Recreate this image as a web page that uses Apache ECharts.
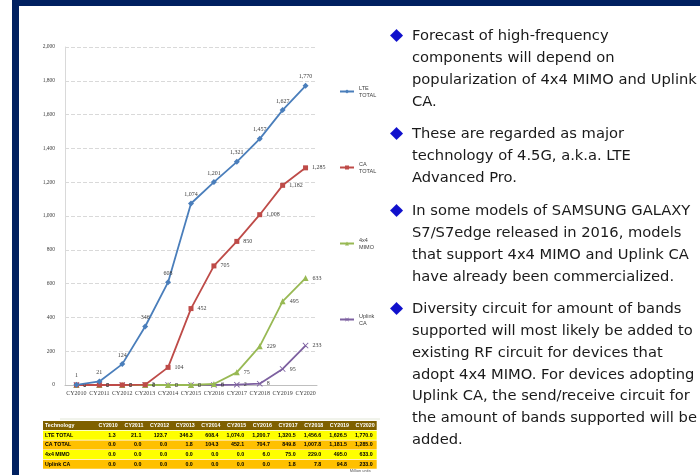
<!DOCTYPE html>
<html>
<head>
<meta charset="utf-8">
<script src="https://cdn.jsdelivr.net/npm/echarts@6/dist/echarts.min.js"></script>
<style>
html,body{margin:0;padding:0;background:#fff;}
#c{width:700px;height:475px;}
</style>
</head>
<body>
<div id="c"></div>
<script>
// ---- data ----
const categories = ['CY2010','CY2011','CY2012','CY2013','CY2014','CY2015','CY2016','CY2017','CY2018','CY2019','CY2020'];
const seriesNames = ['LTE TOTAL','CA TOTAL','4x4 MIMO','Uplink CA'];
const lteTotal = [1.3, 21.1, 123.7, 346.3, 608.4, 1074.0, 1200.7, 1320.5, 1456.6, 1626.5, 1770.0];
const caTotal  = [0.0, 0.0, 0.0, 1.8, 104.3, 452.1, 704.7, 849.8, 1007.8, 1181.5, 1285.0];
const mimo4x4  = [0.0, 0.0, 0.0, 0.0, 0.0, 0.0, 6.0, 75.0, 229.0, 495.0, 633.0];
const uplinkCA = [0.0, 0.0, 0.0, 0.0, 0.0, 0.0, 0.0, 1.8, 7.8, 94.8, 233.0];
const yTicks = [0, 200, 400, 600, 800, 1000, 1200, 1400, 1600, 1800, 2000];
const tableHeader = 'Technology';
const tableRowNames = ['LTE TOTAL','CA TOTAL','4x4 MIMO','Uplink CA'];
const tableUnit = 'Million units';
const bullets = [
  'Forecast of high-frequency\ncomponents will depend on\npopularization of 4x4 MIMO and Uplink\nCA.',
  'These are regarded as major\ntechnology of 4.5G, a.k.a. LTE\nAdvanced Pro.',
  'In some models of SAMSUNG GALAXY\nS7/S7edge released in 2016, models\nthat support 4x4 MIMO and Uplink CA\nhave already been commercialized.',
  'Diversity circuit for amount of bands\nsupported will most likely be added to\nexisting RF circuit for devices that\nadopt 4x4 MIMO. For devices adopting\nUplink CA, the send/receive circuit for\nthe amount of bands supported will be\nadded.'
];

// ---- styles ----
const colors = ['#4A7EBB','#BE4B48','#98B954','#7D60A0'];
const symbols = ['diamond','rect','triangle','path://M0,1L1,0L5,4L9,0L10,1L6,5L10,9L9,10L5,6L1,10L0,9L4,5Z'];
const values = [lteTotal, caTotal, mimo4x4, uplinkCA];
const labelPos = ['top','right','right','right'];

const fmtInt = v => Math.round(v).toLocaleString('en-US');
const fmt1 = v => v.toLocaleString('en-US',{minimumFractionDigits:1,maximumFractionDigits:1});

const chart = echarts.init(document.getElementById('c'));

// table graphic
const tbl = [];
const tLeft = 43, firstW = 51, colW = 25.7, tTop = 421, rowH = 9.7;
const tRight = tLeft + firstW + colW * categories.length;
const rowFills = ['#FFFF00','#FFC000','#FFFF00','#FFC000'];
const tFont = 'bold 5.3px "Liberation Sans"';
tbl.push({type:'rect', shape:{x:tLeft, y:tTop, width:tRight - tLeft, height:rowH - 0.7}, style:{fill:'#7F6000'}});
tbl.push({type:'text', x:tLeft + 2, y:tTop + rowH/2 - 0.3, style:{text:tableHeader, fill:'#fff', font:tFont, verticalAlign:'middle'}});
categories.forEach((c,i)=>{
  tbl.push({type:'text', x:tLeft + firstW + colW*(i+1) - 2, y:tTop + rowH/2 - 0.3, style:{text:c, fill:'#fff', font:tFont, align:'right', verticalAlign:'middle'}});
});
tableRowNames.forEach((rn,r)=>{
  const y = tTop + rowH*(r+1);
  tbl.push({type:'rect', shape:{x:tLeft, y:y, width:tRight - tLeft, height:rowH - 0.7}, style:{fill:rowFills[r]}});
  tbl.push({type:'text', x:tLeft + 2, y:y + rowH/2 - 0.3, style:{text:rn, fill:'#000', font:tFont, verticalAlign:'middle'}});
  values[r].forEach((v,i)=>{
    tbl.push({type:'text', x:tLeft + firstW + colW*(i+1) - 4, y:y + rowH/2 - 0.3, style:{text:fmt1(v), fill:'#000', font:tFont, align:'right', verticalAlign:'middle'}});
  });
});
tbl.push({type:'text', x:tRight - 6, y:471, style:{text:tableUnit, fill:'#555', font:'4px "Liberation Sans"', align:'right', verticalAlign:'middle'}});

// right text
const txt = [];
const paraTops = [24.5, 122.5, 199.5, 297.5];
const lh = 21.8;
bullets.forEach((b,i)=>{
  txt.push({type:'text', x:390, y:paraTops[i] + lh/2, style:{text:'\u25C6', fill:'#1010CC', fontFamily:'DejaVu Sans', fontSize:17, verticalAlign:'middle'}});
  txt.push({type:'text', x:412, y:paraTops[i] + 1, style:{text:b, fill:'#1a1a1a', fontFamily:'DejaVu Sans', fontSize:14.7, lineHeight:lh, verticalAlign:'top'}});
});

chart.setOption({
  backgroundColor:'#fff',
  animation:false,
  grid:{left:65, right:383, top:47, bottom:90},
  legend:{
    orient:'vertical', left:334, top:76, itemGap:55, itemWidth:14, itemHeight:5,
    formatter: n => n.replace(' ', '\n'),
    textStyle:{fontSize:5.5, lineHeight:7, color:'#404040', fontFamily:'Liberation Sans', padding:[7,0,0,0]},
    data: seriesNames
  },
  xAxis:{
    type:'category', data:categories, boundaryGap:true,
    axisLine:{lineStyle:{color:'#BFBFBF'}},
    axisTick:{show:false},
    axisLabel:{fontSize:6, color:'#404040', fontFamily:'Liberation Serif', margin:5, interval:0}
  },
  yAxis:{
    type:'value', min:yTicks[0], max:yTicks[yTicks.length-1], interval:yTicks[1]-yTicks[0],
    axisLine:{show:true, lineStyle:{color:'#D9D9D9'}},
    axisTick:{show:false},
    splitLine:{lineStyle:{color:'#D9D9D9', type:'dashed'}},
    axisLabel:{fontSize:5.5, color:'#404040', fontFamily:'Liberation Serif', margin:10, formatter: v => v.toLocaleString('en-US')}
  },
  series: seriesNames.map((n,i)=>({
    name:n, type:'line', data:values[i], color:colors[i],
    symbol:symbols[i], symbolSize: i===1 ? 5 : 6, showAllSymbol:true,
    lineStyle:{width:1.8, color:colors[i]},
    itemStyle:{color:colors[i]},
    label:{show:true, position:labelPos[i], distance:i===0?3:4, fontSize:6, color:'#404040', fontFamily:'Liberation Serif', formatter:p => fmtInt(p.value)},
    z: 10 - i
  })),
  graphic:[
    {type:'rect', shape:{x:12, y:0, width:688, height:6}, style:{fill:'#002060'}},
    {type:'rect', shape:{x:12, y:0, width:7, height:475}, style:{fill:'#002060'}},
    {type:'line', shape:{x1:60, y1:419, x2:380, y2:419}, style:{stroke:'#E2E7D8', lineWidth:1}},
    {type:'group', children:tbl},
    {type:'group', children:txt}
  ]
});
</script>
</body>
</html>
